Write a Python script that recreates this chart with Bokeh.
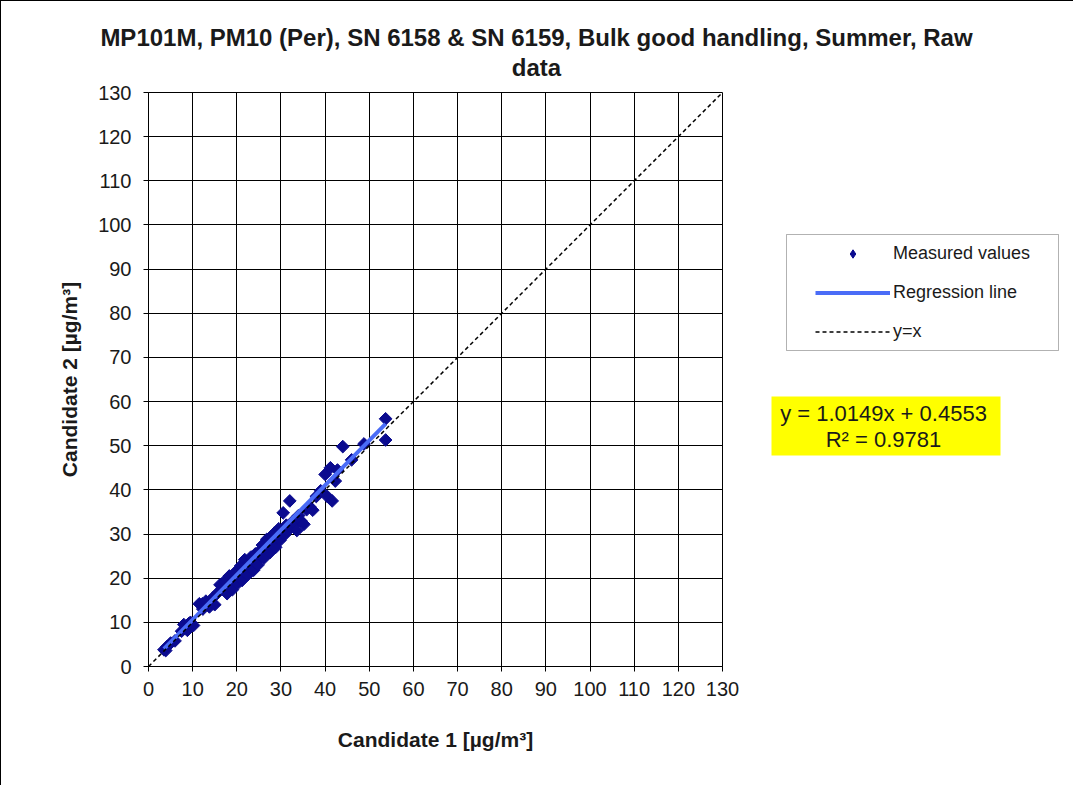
from bokeh.plotting import figure
from bokeh.models import (Range1d, FixedTicker, Label, BoxAnnotation, Legend,
                          LegendItem, ColumnDataSource)
from bokeh.layouts import column, row
from bokeh.embed import file_html
from bokeh.resources import INLINE
import numpy as np

# ---------------- data ----------------
title_line1 = "MP101M, PM10 (Per), SN 6158 & SN 6159, Bulk good handling, Summer, Raw"
title_line2 = "data"
x_label = "Candidate 1 [µg/m³]"
y_label = "Candidate 2 [µg/m³]"
ticks = [0, 10, 20, 30, 40, 50, 60, 70, 80, 90, 100, 110, 120, 130]
legend_labels = ["Measured values", "Regression line", "y=x"]

cand1 = [3.5, 3.9, 4.2, 5.0, 6.0, 7.5, 8.0, 8.8, 9.1, 9.5, 10.2, 11.5, 12.2, 12.3,
         13.0, 13.8, 14.5, 15.0, 15.8, 16.2, 16.8, 17.4, 17.5, 17.8, 18.3, 18.6,
         19.0, 19.4, 19.8, 20.2, 20.5, 20.9, 21.2, 21.5, 21.8, 22.2, 22.5, 22.8,
         23.2, 23.5, 23.8, 24.2, 24.5, 24.8, 25.2, 25.5, 25.8, 26.2, 26.5, 26.8,
         27.2, 27.5, 27.8, 28.2, 28.5, 28.8, 29.2, 29.5, 29.8, 30.2, 30.5, 30.8,
         31.2, 31.5, 32.0, 32.3, 32.8, 33.2, 33.6, 34.0, 34.5, 35.2, 35.8, 36.5,
         37.2, 38.0, 39.0, 40.0, 40.5, 41.2, 41.6, 42.3, 42.8, 44.0, 46.0, 48.8,
         53.7, 53.7]
cand2 = [3.8, 3.6, 4.5, 5.3, 5.8, 8.0, 9.5, 8.2, 9.7, 10.0, 9.3, 14.2, 14.2, 13.0,
         14.8, 13.5, 15.5, 14.0, 16.8, 18.5, 17.5, 19.5, 19.2, 16.5, 20.5, 18.2,
         17.4, 19.8, 21.5, 18.8, 20.2, 22.8, 19.5, 21.4, 24.2, 22.0, 20.8, 23.5,
         24.8, 22.6, 21.8, 25.5, 24.0, 23.0, 26.2, 25.0, 27.5, 24.6, 26.8, 28.8,
         27.2, 25.8, 29.5, 28.0, 30.2, 27.0, 29.0, 31.2, 28.6, 30.5, 34.8, 29.8,
         32.0, 30.8, 37.5, 31.5, 33.0, 32.2, 30.8, 34.2, 33.0, 32.2, 35.5, 36.2,
         35.4, 38.5, 39.8, 43.5, 38.5, 45.0, 37.5, 42.0, 44.5, 49.8, 46.8, 50.4,
         56.1, 51.3]

slope = 1.0149
intercept = 0.4553
r_squared = 0.9781
identity_x = [0, 130]
identity_y = [0, 130]

# ---------------- styles ----------------
FONT = "Liberation Sans"
TXT = "#1a1a1a"
PT_COLOR = "#0b0b8f"
REG_COLOR = "#4a6cf7"
PT_SIZE = 9

def bare(fig):
    fig.outline_line_color = None
    fig.background_fill_color = "white"
    fig.border_fill_color = "white"
    fig.xgrid.visible = False
    fig.ygrid.visible = False
    return fig

# ---------------- title strip ----------------
TH = 80
tf = bare(figure(width=1072, height=TH, x_range=Range1d(0, 1), y_range=Range1d(0, 1),
                 output_backend="svg", toolbar_location=None,
                 x_axis_location=None, y_axis_location=None, min_border=0))
for txt, yy in ((title_line1, TH - 36), (title_line2, TH - 66)):
    tf.add_layout(Label(x=535, y=yy, x_units="screen", y_units="screen", text=txt,
                        text_align="center", text_baseline="middle", text_font=FONT,
                        text_font_size="24px", text_font_style="bold",
                        text_color=TXT))

# ---------------- main chart ----------------
MAIN_W = 759
MAIN_H = 704
FRAME_BOTTOM = 666   # page y of the chart frame's bottom edge
p = figure(width=MAIN_W, height=MAIN_H, x_range=Range1d(0, 130),
           y_range=Range1d(0, 130), output_backend="svg", toolbar_location=None,
           min_border_left=147, min_border_right=MAIN_W - 147 - 574,
           min_border_top=91 - TH, min_border_bottom=MAIN_H - (91 - TH) - 574)
p.background_fill_color = "white"
p.border_fill_color = "white"
p.outline_line_color = "black"
p.outline_line_width = 1

for ax in (p.xaxis[0], p.yaxis[0]):
    ax.ticker = FixedTicker(ticks=ticks)
    ax.minor_tick_line_color = None
    ax.major_tick_out = 5
    ax.major_tick_in = 0
    ax.axis_line_color = "black"
    ax.major_tick_line_color = "black"
    ax.major_label_text_font = FONT
    ax.major_label_text_font_size = "20px"
    ax.major_label_text_color = TXT
    ax.axis_label_text_font = FONT
    ax.axis_label_text_font_size = "21px"
    ax.axis_label_text_font_style = "bold"
    ax.axis_label_text_color = TXT

p.xaxis.axis_label = x_label
p.yaxis.axis_label = y_label
p.xaxis.major_label_standoff = 10
p.yaxis.major_label_standoff = 12
p.xaxis.axis_label_standoff = 29
p.yaxis.axis_label_standoff = 14

for g in (p.xgrid[0], p.ygrid[0]):
    g.ticker = FixedTicker(ticks=ticks)
    g.grid_line_color = "black"
    g.grid_line_width = 1

src = ColumnDataSource(dict(x=cand1, y=cand2))
p.scatter("x", "y", source=src, marker="square", angle=np.pi / 4, size=PT_SIZE,
          fill_color=PT_COLOR, line_color=PT_COLOR)

reg_x = [min(cand1), max(cand1)]
reg_y = [slope * v + intercept for v in reg_x]
p.line(reg_x, reg_y, line_color=REG_COLOR, line_width=4)
p.line(identity_x, identity_y, line_color="black", line_width=1.5, line_dash="4 3")

# ---------------- side panel: legend + equation ----------------
SW = 1072 - MAIN_W
sf = bare(figure(width=SW, height=MAIN_H, x_range=Range1d(0, 1), y_range=Range1d(0, 1),
                 output_backend="svg", toolbar_location=None,
                 x_axis_location=None, y_axis_location=None, min_border=0))
X0 = 1 + MAIN_W          # page x of side panel's left edge

def sx(px):
    return px - X0

def sy(py):
    return FRAME_BOTTOM - py

nan = np.array([np.nan])
lp = sf.scatter(nan, nan, marker="diamond", size=13,
                fill_color=PT_COLOR, line_color=PT_COLOR)
lr = sf.line(nan, nan, line_color=REG_COLOR, line_width=4)
li = sf.line(nan, nan, line_color="black", line_width=1.5, line_dash="4 3")

sf.add_layout(BoxAnnotation(left=sx(786), right=sx(1058), bottom=sy(350), top=sy(234),
                            left_units="screen", right_units="screen",
                            bottom_units="screen", top_units="screen",
                            fill_color="white", fill_alpha=1.0, line_color="black",
                            line_width=1, level="annotation"))
leg = Legend(items=[LegendItem(label=legend_labels[0], renderers=[lp]),
                    LegendItem(label=legend_labels[1], renderers=[lr]),
                    LegendItem(label=legend_labels[2], renderers=[li])],
             location=(sx(805), sy(351.5)), margin=0, padding=10,
             glyph_width=75, glyph_height=21, label_height=21, spacing=18,
             label_standoff=3, border_line_alpha=0, background_fill_alpha=0,
             label_text_font=FONT, label_text_font_size="18px",
             label_text_color=TXT)
sf.add_layout(leg)

sf.add_layout(BoxAnnotation(left=sx(771), right=sx(1000), bottom=sy(455), top=sy(396),
                            left_units="screen", right_units="screen",
                            bottom_units="screen", top_units="screen",
                            fill_color="#ffff00", fill_alpha=1.0, line_alpha=0,
                            level="annotation"))
for txt, py in ((f"y = {slope:.4f}x + {intercept:.4f}", 413),
                (f"R² = {r_squared:.4f}", 439)):
    sf.add_layout(Label(x=sx(883), y=sy(py), x_units="screen", y_units="screen",
                        text=txt, text_align="center", text_baseline="middle",
                        text_font=FONT, text_font_size="22px", text_color=TXT))

layout = column(tf, row(p, sf, spacing=0), spacing=0)
layout.styles = {"border-left": "1px solid #000", "border-top": "1px solid #000"}

open("out.html", "w").write(file_html(layout, INLINE))
